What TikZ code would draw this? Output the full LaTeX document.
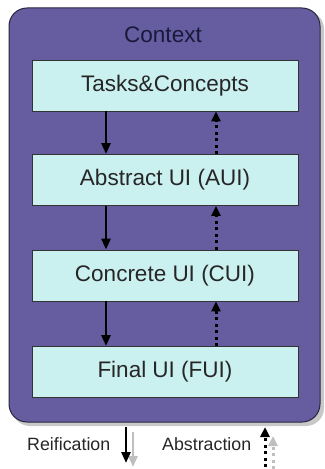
\documentclass[tikz,border=0pt]{standalone}
\usepackage{fontspec}
\setmainfont{Liberation Sans}
\usetikzlibrary{arrows.meta}
\definecolor{ctxfill}{RGB}{101,93,159}
\definecolor{boxfill}{RGB}{203,240,240}
\definecolor{ctxtext}{RGB}{25,25,60}
\definecolor{shadowgray}{RGB}{200,200,200}
\begin{document}
\begin{tikzpicture}[x=1bp,y=-1bp,
  layerbox/.style={draw=black!80, line width=0.9bp, fill=boxfill, minimum width=266bp, minimum height=51bp, inner sep=0pt, font=\fontsize{22.5bp}{26bp}\selectfont, text=black!85},
  refarrow/.style={line width=2.6bp, -{Triangle[length=11bp,width=9bp]}},
  absarrow/.style={line width=3bp, dash pattern=on 3bp off 3.5bp, -{Triangle[length=10bp,width=9bp]}},
  legtext/.style={font=\fontsize{17.8bp}{20bp}\selectfont, text=black!85, inner sep=0pt, anchor=base west}]
\useasboundingbox (0,0) rectangle (324,469);
% shadow
\fill[shadowgray, rounded corners=18bp] (12,11) rectangle (324,426);
% context
\draw[ctxfill!40!black, line width=1bp, fill=ctxfill, rounded corners=18bp] (9,8) rectangle (320,422);
\node[font=\fontsize{22.5bp}{26bp}\selectfont, text=ctxtext, inner sep=0pt] (ctx) at (163,35) {Context};
% layers
\node[layerbox] (tc)  at (165,85.5)  {Tasks\&Concepts};
\node[layerbox] (aui) at (165,180)   {Abstract UI (AUI)};
\node[layerbox] (cui) at (165,275.5) {Concrete UI (CUI)};
\node[layerbox] (fui) at (165,372)   {Final UI (FUI)};
% reification arrows
\foreach \a/\b in {tc/aui, aui/cui, cui/fui}{
  \draw[refarrow] (\a.south -| 106,0) -- (\b.north -| 106,0);
  \draw[absarrow] (\b.north -| 216,0) -- (\a.south -| 216,0);
}
% legend
\node[legtext] (reif) at (27,450) {Reification};
\node[legtext] (abst) at (162,450) {Abstraction};
\coordinate (r1) at (133,432);
\coordinate (r2) at (133,467);
\draw[refarrow, black!25] (r1) -- (r2);
\coordinate (r3) at (126,427);
\coordinate (r4) at (126,463);
\draw[refarrow] (r3) -- (r4);
\coordinate (a1) at (273,469);
\coordinate (a2) at (273,436);
\draw[absarrow, black!25] (a1) -- (a2);
\coordinate (a3) at (265,467);
\coordinate (a4) at (265,427);
\draw[absarrow] (a3) -- (a4);
\end{tikzpicture}
\end{document}
